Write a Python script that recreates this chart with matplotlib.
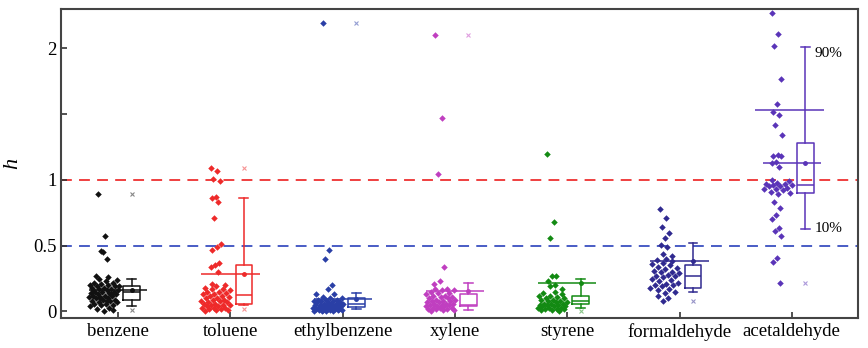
import numpy as np
import matplotlib
matplotlib.use("Agg")
import matplotlib.pyplot as plt

plt.rcParams["font.family"] = ["Liberation Serif", "DejaVu Serif"]

# ---- data ---------------------------------------------------------------
compounds = ["benzene", "toluene", "ethylbenzene", "xylene",
             "styrene", "formaldehyde", "acetaldehyde"]
colors = ["#111111", "#ee2a2a", "#2a3fa6", "#c03fc0",
          "#138a13", "#302a90", "#5a34b8"]

benzene = [0.89, 0.57, 0.46, 0.40, 0.45,
           0.27, 0.26, 0.25, 0.24, 0.23, 0.22, 0.22, 0.21, 0.20, 0.20, 0.19,
           0.19, 0.18, 0.18, 0.17, 0.17, 0.16, 0.16, 0.15, 0.15, 0.15, 0.14,
           0.14, 0.13, 0.13, 0.12, 0.12, 0.12, 0.11, 0.11, 0.10, 0.10, 0.09,
           0.09, 0.08, 0.08, 0.07, 0.07, 0.06, 0.06, 0.05, 0.05, 0.04, 0.03,
           0.02, 0.01, 0.00, 0.16, 0.13, 0.10, 0.19, 0.08]
toluene = [1.09, 1.07, 1.005, 0.99, 0.87, 0.86, 0.835, 0.71, 0.51, 0.49,
           0.47, 0.37, 0.355, 0.34, 0.30,
           0.21, 0.20, 0.19, 0.18, 0.17, 0.17, 0.16, 0.15, 0.15, 0.14, 0.13,
           0.13, 0.12, 0.12, 0.11, 0.10, 0.10, 0.09, 0.09, 0.08, 0.08, 0.07,
           0.07, 0.06, 0.06, 0.05, 0.05, 0.05, 0.04, 0.04, 0.03, 0.03, 0.03,
           0.02, 0.02, 0.01, 0.01, 0.00]
ethylbenzene = [2.19, 0.47, 0.40, 0.20, 0.17, 0.135, 0.13, 0.11,
                0.10, 0.10, 0.09, 0.09, 0.09, 0.08, 0.08, 0.08, 0.07, 0.07,
                0.07, 0.06, 0.06, 0.06, 0.06, 0.05, 0.05, 0.05, 0.05, 0.04,
                0.04, 0.04, 0.04, 0.03, 0.03, 0.03, 0.03, 0.03, 0.02, 0.02,
                0.02, 0.02, 0.02, 0.01, 0.01, 0.01, 0.01, 0.01, 0.00, 0.00,
                0.00, 0.00]
xylene = [2.10, 1.47, 1.045, 0.34, 0.23, 0.21, 0.17, 0.17, 0.16, 0.16,
          0.15, 0.14, 0.14, 0.13, 0.12, 0.12, 0.11, 0.11, 0.10, 0.10, 0.09,
          0.09, 0.08, 0.08, 0.08, 0.07, 0.07, 0.06, 0.06, 0.06, 0.05, 0.05,
          0.05, 0.04, 0.04, 0.04, 0.03, 0.03, 0.03, 0.02, 0.02, 0.02, 0.01,
          0.01, 0.00]
styrene = [1.20, 0.68, 0.557, 0.266, 0.266, 0.23, 0.20, 0.19, 0.17, 0.15,
           0.14, 0.13, 0.12, 0.12, 0.11, 0.10, 0.10, 0.09, 0.09, 0.08, 0.08,
           0.07, 0.07, 0.06, 0.06, 0.06, 0.05, 0.05, 0.05, 0.04, 0.04, 0.04,
           0.03, 0.03, 0.03, 0.02, 0.02, 0.02, 0.01, 0.01, 0.00]
formaldehyde = [0.78, 0.71, 0.645, 0.595, 0.56, 0.506, 0.49, 0.44, 0.42,
                0.40, 0.39, 0.38, 0.37, 0.36, 0.35, 0.34, 0.33, 0.32, 0.31,
                0.30, 0.30, 0.29, 0.28, 0.27, 0.27, 0.26, 0.25, 0.24, 0.23,
                0.22, 0.21, 0.20, 0.20, 0.19, 0.18, 0.17, 0.16, 0.15, 0.14,
                0.12, 0.10, 0.076]
acetaldehyde = [2.27, 2.11, 2.02, 1.77, 1.58, 1.515, 1.49, 1.42, 1.34, 1.19,
                1.18, 1.185, 1.135, 1.13, 1.10, 1.00, 0.99, 0.98, 0.97, 0.97,
                0.96, 0.96, 0.95, 0.95, 0.94, 0.93, 0.93, 0.92, 0.91, 0.90,
                0.89, 0.835, 0.785, 0.735, 0.70, 0.635, 0.61, 0.575, 0.41,
                0.375, 0.22]
series = [benzene, toluene, ethylbenzene, xylene, styrene, formaldehyde,
          acetaldehyde]

# box statistics (10th, 25th, median, 75th, 90th percentile, mean, min, max)
p10 = [0.045, 0.05, 0.02, 0.01, 0.03, 0.15, 0.63]
q25 = [0.09, 0.058, 0.033, 0.04, 0.058, 0.18, 0.90]
med = [0.145, 0.127, 0.06, 0.05, 0.083, 0.27, 0.96]
q75 = [0.19, 0.355, 0.10, 0.134, 0.114, 0.355, 1.28]
p90 = [0.25, 0.866, 0.14, 0.22, 0.25, 0.52, 2.01]
means = [0.165, 0.284, 0.094, 0.157, 0.22, 0.38, 1.13]
mins = [0.01, 0.02, np.nan, np.nan, 0.005, 0.076, 0.22]
maxs = [0.89, 1.09, 2.19, 2.10, np.nan, np.nan, np.nan]
acet_upper_line = 1.53

# ---- figure -------------------------------------------------------------
fig = plt.figure(figsize=(8.68, 3.48), dpi=100)
ax = fig.add_axes([0.0705, 0.086, 0.918, 0.887])

pos = np.arange(1, len(compounds) + 1)
for i, (vals, c) in enumerate(zip(series, colors)):
    vals = np.asarray(vals)
    n = len(vals)
    # strip spread: wide where points crowd, narrow for lone values
    crowd = np.array([(np.abs(vals - v) < 0.06).sum() for v in vals])
    amp = 0.27 * np.clip((crowd - 1) / 10.0, 0.35, 1.0)
    jit = ((np.arange(n) * 0.6180339887) % 1.0 - 0.5) * amp
    ax.scatter(pos[i] - 0.13 + jit, vals, marker="D", s=11, color=c,
               linewidths=0, zorder=3)
    stats = [dict(whislo=p10[i], q1=q25[i], med=med[i], q3=q75[i],
                  whishi=p90[i], mean=means[i], fliers=[])]
    ax.bxp(stats, positions=[pos[i] + 0.12], widths=0.15, capwidths=0.08,
           showmeans=True, manage_ticks=False,
           boxprops=dict(color=c, lw=1.1),
           whiskerprops=dict(color=c, lw=1.1),
           capprops=dict(color=c, lw=1.1),
           medianprops=dict(color=c, lw=1.1),
           meanprops=dict(marker="o", markersize=2.5, markerfacecolor=c,
                          markeredgecolor=c))
    ax.hlines(means[i], pos[i] - 0.26, pos[i] + 0.26, color=c, lw=1.1,
              zorder=2)
    ax.plot([pos[i] + 0.12, pos[i] + 0.12], [mins[i], maxs[i]],
            ls="none", marker="x", ms=3, mew=0.8, color=c, alpha=0.5)

ax.hlines(acet_upper_line, pos[6] - 0.33, pos[6] + 0.29, color=colors[6],
          lw=1.1)
ax.text(pos[6] + 0.2, p90[6], "90%", fontsize=11, va="top", ha="left")
ax.text(pos[6] + 0.2, p10[6], "10%", fontsize=11, va="center", ha="left")

ax.axhline(1.0, color="#ee3030", ls=(0, (6, 4)), lw=1.3, zorder=1)
ax.axhline(0.5, color="#3a4fc0", ls=(0, (6, 4)), lw=1.3, zorder=1)

ax.set_xlim(0.492, 7.59)
ax.set_ylim(-0.05, 2.296)
ax.set_xticks(pos)
ax.set_xticklabels(compounds, fontsize=13.5)
ax.set_yticks([0, 0.5, 1, 1.5, 2])
ax.set_yticklabels(["0", "0.5", "1", "", "2"], fontsize=13.5)
ax.tick_params(direction="in", length=4, width=1.2, color="#333333")
for s in ax.spines.values():
    s.set_linewidth(1.5)
    s.set_color("#444444")
ax.set_ylabel("h", fontstyle="italic", fontsize=16, labelpad=8)

fig.savefig("out.png", dpi=100)
